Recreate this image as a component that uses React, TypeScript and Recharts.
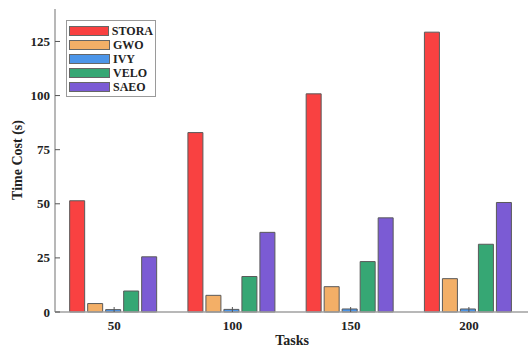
import { BarChart, Bar, XAxis, YAxis, Legend, Label } from "recharts";

const tasks = ["50", "100", "150", "200"];
const stora = [51.4, 82.9, 100.8, 129.3];
const gwo = [3.9, 7.7, 11.7, 15.4];
const ivy = [1.1, 1.2, 1.4, 1.4];
const velo = [9.7, 16.4, 23.3, 31.3];
const saeo = [25.5, 36.8, 43.5, 50.6];
const yTicks = [0, 25, 50, 75, 100, 125];

const data = tasks.map((t, i) => ({
  task: t,
  STORA: stora[i],
  GWO: gwo[i],
  IVY: ivy[i],
  VELO: velo[i],
  SAEO: saeo[i],
}));

const series = [
  { key: "STORA", color: "#F94141" },
  { key: "GWO", color: "#F3AF67" },
  { key: "IVY", color: "#4C95E8" },
  { key: "VELO", color: "#36A774" },
  { key: "SAEO", color: "#7B5BD4" },
];

const font = "'Liberation Serif', 'Times New Roman', serif";
const axisGray = "#a0a0a0";
const tickColor = "#555";

const LeftTick = (props: any) => {
  const { x, y, payload } = props;
  return (
    <g>
      <line x1={x} y1={y} x2={x + 5} y2={y} stroke={tickColor} strokeWidth={1} />
      <text x={x - 5} y={y} dy="0.35em" textAnchor="end" fontFamily={font} fontWeight="bold" fontSize={13} fill="#222">
        {payload.value}
      </text>
    </g>
  );
};

const BottomTick = (props: any) => {
  const { x, y, payload } = props;
  return (
    <g>
      <line x1={x} y1={y} x2={x} y2={y - 5} stroke={tickColor} strokeWidth={1} />
      <text x={x} y={y + 18} textAnchor="middle" fontFamily={font} fontWeight="bold" fontSize={13} fill="#222">
        {payload.value}
      </text>
    </g>
  );
};

const TopTick = (props: any) => {
  const { x, y } = props;
  return <line x1={x} y1={y} x2={x} y2={y + 4} stroke={tickColor} strokeWidth={1} />;
};

const RightTick = (props: any) => {
  const { x, y } = props;
  return <line x1={x} y1={y} x2={x - 5} y2={y} stroke={tickColor} strokeWidth={1} />;
};

const LegendBox = () => (
  <div
    style={{
      border: "1px solid #9a9a9a",
      background: "#fff",
      padding: "3px 2px 2px 2px",
      width: 90,
      boxSizing: "border-box",
    }}
  >
    {series.map((s) => (
      <div key={s.key} style={{ display: "flex", alignItems: "center", height: 14 }}>
        <div
          style={{
            width: 41,
            height: 10,
            background: s.color,
            border: "1px solid #666",
            boxSizing: "border-box",
            marginRight: 3,
          }}
        />
        <span style={{ fontFamily: font, fontWeight: "bold", fontSize: 12, color: "#222", lineHeight: "14px" }}>
          {s.key}
        </span>
      </div>
    ))}
  </div>
);

export default function App() {
  return (
    <div style={{ position: "fixed", left: 0, top: 0, width: 530, height: 347, background: "#fff" }}>
      <BarChart
        width={530}
        height={347}
        data={data}
        margin={{ top: 9, right: 2, left: 0, bottom: 0 }}
        barCategoryGap="12.4%"
        barGap={3}
      >
        <XAxis
          dataKey="task"
          xAxisId="bottom"
          height={35}
          tickSize={0}
          tickMargin={0}
          tick={<BottomTick />}
          axisLine={{ stroke: axisGray, strokeWidth: 1.5 }}
          tickLine={false}
          interval={0}
        >
          <Label
            content={() => (
              <text x={292} y={345} textAnchor="middle" fontFamily={font} fontWeight="bold" fontSize={14} fill="#222">
                Tasks
              </text>
            )}
          />
        </XAxis>
        <XAxis
          dataKey="task"
          xAxisId="top"
          orientation="top"
          height={0}
          tickSize={0}
          tickMargin={0}
          tick={<TopTick />}
          axisLine={{ stroke: axisGray, strokeWidth: 1.5 }}
          tickLine={false}
          interval={0}
        />
        <YAxis
          yAxisId="left"
          width={55}
          domain={[0, 140]}
          ticks={yTicks}
          interval={0}
          tickSize={0}
          tickMargin={0}
          tick={<LeftTick />}
          axisLine={{ stroke: axisGray, strokeWidth: 1.5 }}
          tickLine={false}
        >
          <Label
            content={() => (
              <text
                x={17}
                y={160}
                transform="rotate(-90 17 160)"
                textAnchor="middle"
                dominantBaseline="central"
                fontFamily={font}
                fontWeight="bold"
                fontSize={14}
                fill="#222"
              >
                Time Cost (s)
              </text>
            )}
          />
        </YAxis>
        <YAxis
          yAxisId="right"
          orientation="right"
          width={0}
          domain={[0, 140]}
          ticks={yTicks}
          interval={0}
          tickSize={0}
          tickMargin={0}
          tick={<RightTick />}
          axisLine={{ stroke: axisGray, strokeWidth: 1.5 }}
          tickLine={false}
        />
        <Legend
          layout="vertical"
          align="center"
          verticalAlign="middle"
          content={<LegendBox />}
          wrapperStyle={{ left: 66, top: 20, width: 95, height: 75 }}
        />
        {series.map((s) => (
          <Bar
            key={s.key}
            dataKey={s.key}
            xAxisId="bottom"
            yAxisId="left"
            fill={s.color}
            stroke="#5a5a5a"
            strokeWidth={1}
            isAnimationActive={false}
          />
        ))}
      </BarChart>
    </div>
  );
}
